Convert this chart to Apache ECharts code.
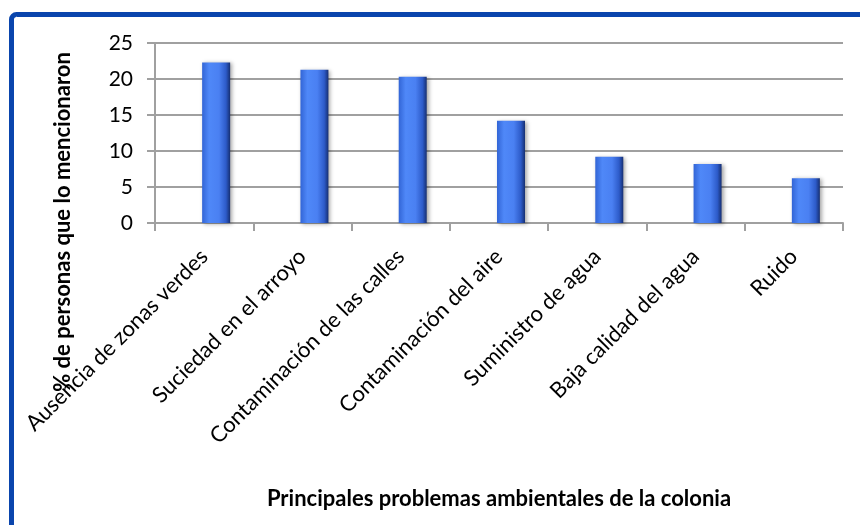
<!DOCTYPE html>
<html>
<head>
<meta charset="utf-8">
<script src="https://cdn.jsdelivr.net/npm/echarts@6/dist/echarts.min.js"></script>
<style>
html,body{margin:0;padding:0;background:#fff;}
#c{width:860px;height:525px;}
</style>
</head>
<body>
<div id="c"></div>
<script>
const categories = ["Ausencia de zonas verdes","Suciedad en el arroyo","Contaminación de las calles","Contaminación del aire","Suministro de agua","Baja calidad del agua","Ruido"];
const values = [22.3, 21.3, 20.3, 14.2, 9.2, 8.2, 6.2];
const yTicks = [0, 5, 10, 15, 20, 25];
const xTitle = "Principales problemas ambientales de la colonia";
const yTitle = "% de personas que lo mencionaron";

const FONT = "Lato, Carlito, 'Liberation Sans', sans-serif";
const chart = echarts.init(document.getElementById('c'), null, {renderer:'canvas'});
const gridTop = 43, gridBottom = 302;
chart.setOption({
  animation:false,
  backgroundColor:'#ffffff',
  graphic:[
    {type:'rect', shape:{x:11.5, y:14.5, width:900, height:600, r:5}, style:{fill:'none', stroke:'#0a45ad', lineWidth:5}, z:100},
    {type:'text', x:63, y:222, rotation:Math.PI/2, style:{text:yTitle, font:"bold 22px "+FONT, fill:'#000', textAlign:'center', textVerticalAlign:'middle'}, z:50}
  ],
  grid:[
    {left:155, right:17, top:gridTop, bottom:gridBottom, containLabel:false},
    {left:167, right:5, top:gridTop, bottom:gridBottom, containLabel:false}
  ],
  xAxis:[
    {type:'category', gridIndex:0, data:categories, boundaryGap:true,
     axisLine:{show:true, lineStyle:{color:'#a0a0a0', width:2}},
     axisTick:{show:true, length:8, lineStyle:{color:'#a0a0a0', width:2}},
     axisLabel:{rotate:45, margin:30, fontSize:22, fontFamily:FONT, color:'#000', interval:0},
     name:xTitle, nameLocation:'middle', nameGap:265,
     nameTextStyle:{fontSize:22, fontWeight:'bold', fontFamily:FONT, color:'#000'}},
    {type:'category', gridIndex:1, data:categories, show:false}
  ],
  yAxis:[
    {type:'value', gridIndex:0, min:yTicks[0], max:yTicks[yTicks.length-1], interval:5,
     axisLine:{show:true, lineStyle:{color:'#a0a0a0', width:2}},
     axisTick:{show:true, length:8, lineStyle:{color:'#a0a0a0', width:2}},
     splitLine:{show:true, lineStyle:{color:'#a0a0a0', width:2}},
     axisLabel:{margin:22, fontSize:21, fontFamily:FONT, color:'#000'}},
    {type:'value', gridIndex:1, min:yTicks[0], max:yTicks[yTicks.length-1], interval:5, show:false}
  ],
  series:[{
    type:'bar', xAxisIndex:1, yAxisIndex:1, data:values, barWidth:28,
    itemStyle:{
      color:{type:'linear', x:0, y:0, x2:1, y2:0, colorStops:[
        {offset:0, color:'#3265d6'},
        {offset:0.25, color:'#4f88f8'},
        {offset:0.6, color:'#4a80f2'},
        {offset:0.85, color:'#2d5bc9'},
        {offset:1, color:'#162f72'}
      ]},
      shadowColor:'rgba(0,0,0,0.35)', shadowBlur:4, shadowOffsetX:2, shadowOffsetY:1
    }
  }]
});
</script>
</body>
</html>
